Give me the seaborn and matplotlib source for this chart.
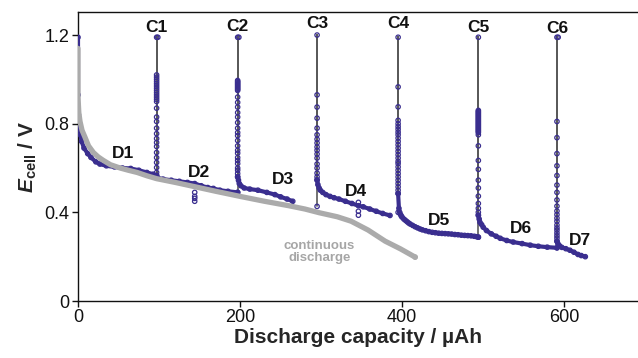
import numpy as np
import pandas as pd
import matplotlib
matplotlib.use("Agg")
import matplotlib.pyplot as plt
import seaborn as sns

# ---------------- data ----------------
# continuous discharge (grey)
cont_x = [0, 0, 1, 2.5, 5, 8.5, 13, 19, 25, 31, 40, 52, 62, 73, 85, 97, 120, 145, 170,
          200, 230, 260, 280, 298, 320, 337, 358, 379, 398, 416]
cont_v = [1.14, 0.92, 0.85, 0.81, 0.77, 0.74, 0.70, 0.67, 0.65, 0.635, 0.615, 0.60, 0.59,
          0.58, 0.565, 0.552, 0.535, 0.515, 0.495, 0.472, 0.45, 0.43, 0.415, 0.398, 0.38,
          0.36, 0.32, 0.27, 0.235, 0.198]

# pulsed discharge segments D1..D7
d1_x = [0, 0, 0, 0.5, 1, 2, 3, 4.5, 7.4, 12, 16, 22, 27, 35, 45, 55, 65, 75, 85, 93, 97]
d1_v = [1.19, 0.93, 0.88, 0.84, 0.81, 0.78, 0.75, 0.72, 0.69, 0.665, 0.648, 0.628, 0.618,
        0.61, 0.605, 0.60, 0.598, 0.59, 0.58, 0.572, 0.56]
d2_x = [97, 98, 105, 115, 125, 135, 144, 152, 160, 167, 175, 185, 197]
d2_v = [0.566, 0.556, 0.55, 0.545, 0.54, 0.535, 0.53, 0.52, 0.512, 0.508, 0.50, 0.495, 0.49]
d3_x = [197, 198, 199, 201, 205, 212, 222, 233, 243, 250, 258, 265]
d3_v = [0.56, 0.545, 0.53, 0.52, 0.51, 0.505, 0.50, 0.49, 0.48, 0.47, 0.46, 0.45]
d4_x = [295, 296, 297.5, 299, 302, 306, 311, 316, 322, 330, 338, 346, 352, 360, 368, 376, 385]
d4_v = [0.546, 0.525, 0.51, 0.50, 0.49, 0.48, 0.472, 0.466, 0.46, 0.45, 0.44, 0.43, 0.425,
        0.415, 0.405, 0.395, 0.386]
d5_x = [395, 396, 397, 398, 399, 400, 402, 404, 406, 408, 410, 413, 416, 419, 422, 425, 429,
        433, 437, 441, 445, 449, 453, 457, 461, 465, 469, 473, 477, 481, 485, 489, 492, 494]
d5_v = [0.485, 0.418, 0.40, 0.39, 0.383, 0.378, 0.37, 0.364, 0.358, 0.352, 0.347, 0.341,
        0.335, 0.33, 0.325, 0.321, 0.317, 0.313, 0.31, 0.308, 0.306, 0.305, 0.304, 0.303,
        0.302, 0.30, 0.299, 0.297, 0.296, 0.295, 0.294, 0.292, 0.29, 0.288]
d6_x = [494, 495, 496, 498, 500, 504, 510, 516, 521, 529, 537, 548, 558, 568, 579, 591]
d6_v = [0.387, 0.37, 0.355, 0.345, 0.333, 0.318, 0.303, 0.292, 0.283, 0.273, 0.266, 0.259,
        0.252, 0.247, 0.243, 0.24]
d7_x = [591, 592, 594, 597, 602, 607, 612, 617, 621, 626]
d7_v = [0.27, 0.26, 0.25, 0.242, 0.236, 0.229, 0.22, 0.21, 0.205, 0.2]

# charge / rest steps C1..C6 (capacity constant)
c_x = [97, 197, 295, 395, 494, 591]
c1_v = [0.555, 1.19, 1.02, 1.01, 1.0, 0.99, 0.98, 0.97, 0.96, 0.95, 0.94, 0.93, 0.92, 0.91,
        0.90, 0.87, 0.83, 0.81, 0.78, 0.755, 0.733, 0.715, 0.697, 0.67, 0.647, 0.625, 0.602,
        0.58, 0.566]
c2_v = [0.49, 1.19, 0.995, 0.99, 0.985, 0.98, 0.975, 0.97, 0.965, 0.96, 0.955, 0.95, 0.92,
        0.896, 0.875, 0.85, 0.83, 0.805, 0.78, 0.76, 0.746, 0.724, 0.70, 0.68, 0.667, 0.647,
        0.634, 0.62, 0.60, 0.59, 0.575, 0.56]
c3_v = [0.427, 1.2, 0.93, 0.875, 0.825, 0.78, 0.75, 0.73, 0.713, 0.695, 0.68, 0.663, 0.645,
        0.618, 0.60, 0.577, 0.56, 0.546]
c4_v = [0.40, 1.19, 0.966, 0.876, 0.815, 0.80, 0.787, 0.775, 0.762, 0.75, 0.735, 0.72, 0.705,
        0.69, 0.675, 0.66, 0.645, 0.63, 0.62, 0.605, 0.59, 0.575, 0.56, 0.545, 0.53, 0.515,
        0.50, 0.485]
c5_v = [0.288, 1.19, 0.86, 0.855, 0.85, 0.845, 0.84, 0.835, 0.83, 0.825, 0.82, 0.815, 0.81,
        0.805, 0.80, 0.795, 0.79, 0.785, 0.78, 0.775, 0.77, 0.765, 0.76, 0.75, 0.70, 0.634,
        0.594, 0.545, 0.51, 0.473, 0.44, 0.418, 0.40, 0.387]
c6_v = [0.24, 1.19, 0.81, 0.737, 0.665, 0.61, 0.566, 0.523, 0.49, 0.456, 0.428, 0.406, 0.39,
        0.374, 0.36, 0.343, 0.33, 0.32, 0.307, 0.295, 0.284, 0.27]

# isolated points (spikes and doubled top points)
extra_x = [144, 144, 144, 144, 346, 346, 346, 98.5, 198.5, 592.5]
extra_v = [0.49, 0.472, 0.463, 0.45, 0.445, 0.405, 0.387, 1.19, 1.19, 1.19]

d_labels = ["D1", "D2", "D3", "D4", "D5", "D6", "D7"]
d_label_x = [56, 149, 253, 343, 445, 546, 619]
d_label_v = [0.667, 0.58, 0.546, 0.494, 0.362, 0.325, 0.273]
c_labels = ["C1", "C2", "C3", "C4", "C5", "C6"]
c_label_v = [1.233, 1.237, 1.253, 1.25, 1.236, 1.23]

x_ticks = [0, 200, 400, 600]
y_ticks = [0, 0.4, 0.8, 1.2]

# ---------------- frames ----------------
d_list = [(d1_x, d1_v), (d2_x, d2_v), (d3_x, d3_v), (d4_x, d4_v),
          (d5_x, d5_v), (d6_x, d6_v), (d7_x, d7_v)]
df_d = pd.concat([pd.DataFrame({"x": x, "v": v, "seg": i}) for i, (x, v) in enumerate(d_list)],
                 ignore_index=True)
c_list = [c1_v, c2_v, c3_v, c4_v, c5_v, c6_v]
df_c = pd.concat([pd.DataFrame({"x": [cx] * len(v), "v": v, "seg": i})
                  for i, (cx, v) in enumerate(zip(c_x, c_list))], ignore_index=True)
df_e = pd.DataFrame({"x": extra_x, "v": extra_v})
df_all = pd.concat([df_d[["x", "v"]], df_c[["x", "v"]], df_e], ignore_index=True)
df_cont = pd.DataFrame({"x": cont_x, "v": cont_v})

# ---------------- style ----------------
sns.set_theme(style="ticks")
plt.rcParams["font.family"] = ["Liberation Sans", "DejaVu Sans"]
plt.rcParams["mathtext.fontset"] = "custom"
plt.rcParams["mathtext.rm"] = "Liberation Sans"
plt.rcParams["mathtext.it"] = "Liberation Sans:italic"
plt.rcParams["mathtext.bf"] = "Liberation Sans:bold"
plt.rcParams["mathtext.bfit"] = "Liberation Sans:italic:bold"

BLUE = "#3a2e8f"
GREY = "#ababab"

fig = plt.figure(figsize=(6.38, 3.58), dpi=100)
ax = fig.add_axes([78 / 638, 1 - 301 / 358, 560 / 638, 289 / 358])

# charge/rest vertical lines
sns.lineplot(data=df_c, x="x", y="v", units="seg", estimator=None, sort=False,
             color="#5a5a5a", lw=1.2, ax=ax, zorder=2)
# dense discharge bands
sns.lineplot(data=df_d, x="x", y="v", units="seg", estimator=None, sort=False,
             color=BLUE, lw=3.0, ax=ax, zorder=3)
# open circle markers
sns.scatterplot(data=df_all, x="x", y="v", marker="o", s=10, facecolors="none",
                edgecolors=BLUE, linewidth=0.9, ax=ax, zorder=4)
# continuous discharge
sns.lineplot(data=df_cont, x="x", y="v", estimator=None, sort=False, color=GREY, lw=3.8,
             ax=ax, zorder=5, solid_capstyle="round")
ax.scatter([cont_x[-1]], [cont_v[-1]], s=10, facecolors="none", edgecolors=GREY,
           linewidths=0.9, zorder=6)

# labels
for lab, cx, cy in zip(c_labels, c_x, c_label_v):
    ax.text(cx, cy, lab, ha="center", va="center", fontsize=12.5, fontweight="bold", color="#111111")
for lab, lx, ly in zip(d_labels, d_label_x, d_label_v):
    ax.text(lx, ly, lab, ha="center", va="center", fontsize=12.5, fontweight="bold", color="#111111")
ax.text(298, 0.223, "continuous\ndischarge", ha="center", va="center", fontsize=9.5,
        fontweight="bold", color="#a6a6a6", linespacing=1.0)

ax.set_xlim(0, 691)
ax.set_ylim(0, 1.304)
ax.set_xticks(x_ticks)
ax.set_xticklabels([str(t) for t in x_ticks])
ax.set_yticks(y_ticks)
ax.set_yticklabels(["0", "0.4", "0.8", "1.2"])
ax.tick_params(direction="out", length=4, width=1, labelsize=13, pad=2, colors="#111111")
for s in ["left", "bottom", "top"]:
    ax.spines[s].set_visible(True)
    ax.spines[s].set_linewidth(1)
    ax.spines[s].set_color("#111111")
ax.spines["right"].set_visible(False)

ax.set_xlabel("Discharge capacity / µAh", fontsize=15, fontweight="bold", labelpad=1)
ax.set_ylabel(r"$\mathbfit{E}_{\mathbf{cell}}$ / V", fontsize=15, fontweight="bold", labelpad=4)

fig.savefig("out.png", dpi=100)
